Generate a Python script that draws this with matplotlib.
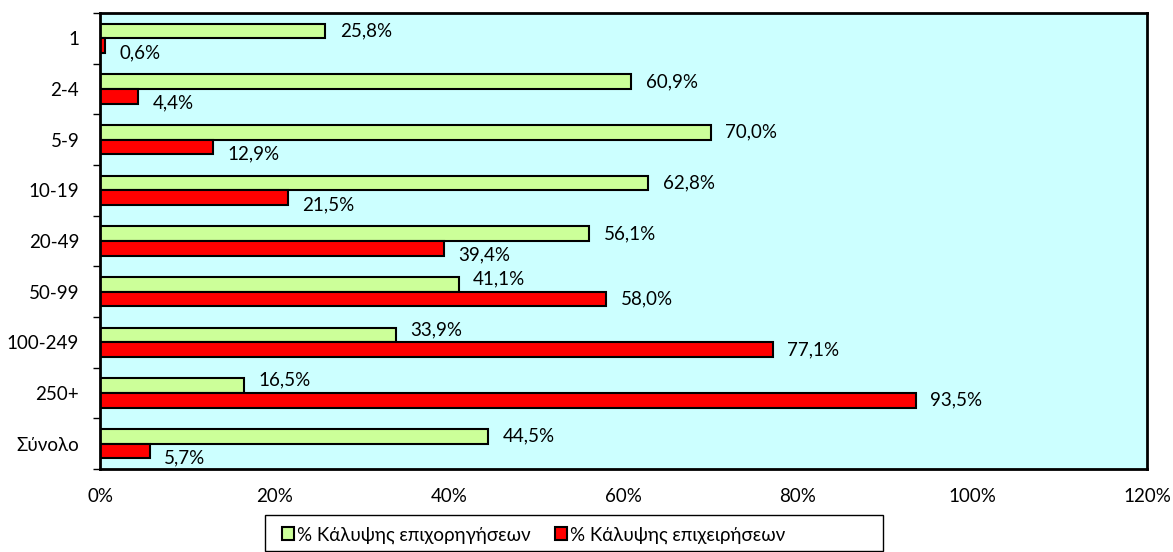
import matplotlib
matplotlib.use("Agg")
import matplotlib.pyplot as plt
import numpy as np
from matplotlib.ticker import FixedLocator, MultipleLocator, FuncFormatter
from matplotlib.patches import Rectangle

plt.rcParams['font.family'] = ['Lato', 'Noto Sans', 'DejaVu Sans']

categories = ["1", "2-4", "5-9", "10-19", "20-49", "50-99", "100-249", "250+", "Σύνολο"]
grants = [25.8, 60.9, 70.0, 62.8, 56.1, 41.1, 33.9, 16.5, 44.5]
firms = [0.6, 4.4, 12.9, 21.5, 39.4, 58.0, 77.1, 93.5, 5.7]
series_names = ["% Κάλυψης επιχορηγήσεων", "% Κάλυψης επιχειρήσεων"]

W, H = 1173, 552
fig = plt.figure(figsize=(W / 100, H / 100), dpi=100)
ax = fig.add_axes([100 / W, 1 - 469 / H, (1147 - 100) / W, (469 - 13) / H])
ax.set_facecolor("#CCFFFF")

n = len(categories)
y = np.arange(n)
h = 0.29
lw = 1.5
b1 = ax.barh(y - h / 2, grants, height=h, color="#CCFF99", edgecolor="black", linewidth=lw,
             label=series_names[0])
b2 = ax.barh(y + h / 2, firms, height=h, color="#FF0000", edgecolor="black", linewidth=lw,
             label=series_names[1])

fs = 13.5
fmt = lambda v: f"{v:.1f}%".replace(".", ",")
for yi, g, f in zip(y, grants, firms):
    dyg = 4 if f > g else 0
    ax.annotate(fmt(g), (g, yi - h / 2), xytext=(10.5, dyg), textcoords="offset points",
                va="center", ha="left", fontsize=fs)
    dyr = -5 if g > f else 0
    ax.annotate(fmt(f), (f, yi + h / 2), xytext=(10.5, dyr), textcoords="offset points",
                va="center", ha="left", fontsize=fs)

ax.set_ylim(n - 0.5, -0.5)
ax.set_xlim(0, 120)
ax.xaxis.set_major_locator(MultipleLocator(20))
ax.xaxis.set_major_formatter(FuncFormatter(lambda v, p: f"{v:.0f}%"))
ax.set_yticks(y)
ax.set_yticklabels(categories)
ax.yaxis.set_minor_locator(FixedLocator(np.arange(-0.5, n, 1)))
ax.tick_params(axis="y", which="major", length=0, pad=15, labelsize=fs)
ax.tick_params(axis="y", which="minor", length=5, width=1, direction="out")
ax.tick_params(axis="x", which="major", length=0, pad=14, labelsize=fs)
for s in ax.spines.values():
    s.set_linewidth(2)
    s.set_color("black")

leg = fig.legend(handles=[b1, b2], labels=series_names, loc="center left",
                 bbox_to_anchor=(276 / W, 1 - 535 / H), ncol=2, frameon=False,
                 fontsize=fs, handlelength=0.65, handleheight=0.65, handletextpad=0.15,
                 columnspacing=1.3, borderpad=0.3, borderaxespad=0)
for p in leg.get_patches():
    p.set_linewidth(1.5)

fig.add_artist(Rectangle((265 / W, 1 - 551 / H), (883 - 265) / W, (551 - 515) / H,
                         transform=fig.transFigure, fill=False, edgecolor="black",
                         linewidth=1))

fig.savefig("out.png", dpi=100)
